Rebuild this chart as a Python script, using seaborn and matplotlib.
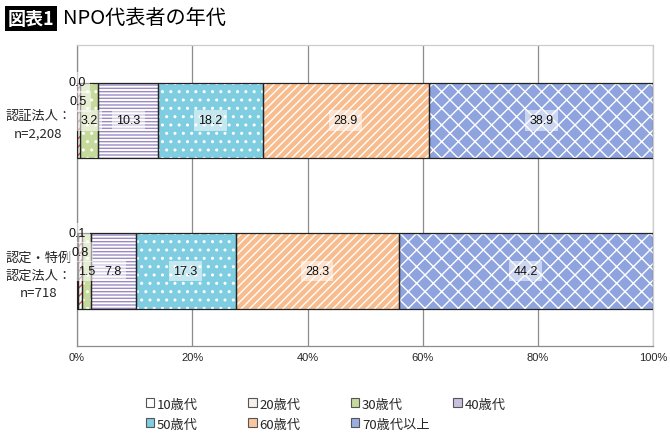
import numpy as np
import pandas as pd
import matplotlib
matplotlib.use('Agg')
import matplotlib.pyplot as plt
import matplotlib.patches as mpatches
import seaborn as sns

sns.set_style('white')
plt.rcParams['font.family'] = ['Noto Sans CJK JP', 'DejaVu Sans']
plt.rcParams['hatch.linewidth'] = 1.0

categories = ['認証法人：\nn=2,208', '認定・特例\n認定法人：\nn=718']
ages = ['10歳代', '20歳代', '30歳代', '40歳代', '50歳代', '60歳代', '70歳代以上']
ninsho = [0.0, 0.5, 3.2, 10.3, 18.2, 28.9, 38.9]
nintei = [0.1, 0.8, 1.5, 7.8, 17.3, 28.3, 44.2]
x_ticks = [0, 20, 40, 60, 80, 100]
x_tick_labels = ['0%', '20%', '40%', '60%', '80%', '100%']

# face colour, hatch colour, hatch, legend colour
styles = {'10歳代': ('white', '#c9c9c9', '', 'white'),
          '20歳代': ('white', '#d9534f', '////', '#f7eeee'),
          '30歳代': ('#c6da9c', 'white', '..', '#c6da9c'),
          '40歳代': ('white', '#9b89c4', '-----', '#c9c0de'),
          '50歳代': ('#7fcde0', 'white', '..', '#7fcde0'),
          '60歳代': ('#f8bd8e', 'white', '////', '#f8c7a0'),
          '70歳代以上': ('#8fa4de', 'white', 'xx', '#9aaee0')}

df = pd.DataFrame({'group': np.repeat(categories, len(ages)),
                   'age': ages * len(categories),
                   'value': ninsho + nintei})
df['cum'] = df.groupby('group', sort=False)['value'].cumsum()

fig = plt.figure(figsize=(6.7, 4.35), dpi=100)
ax = fig.add_axes([0.115, 0.202, 0.86, 0.692])

# stacked bars: draw cumulative totals from the outside in
for age in ages[::-1]:
    sub = df[df.age == age]
    face, hcol, hatch, _ = styles[age]
    n0 = len(ax.patches)
    sns.barplot(data=sub, x='cum', y='group', order=categories, orient='h',
                color=face, width=0.5, errorbar=None, ax=ax)
    for p in ax.patches[n0:]:
        p.set_facecolor(face)
        p.set_edgecolor(hcol)
        p.set_hatch(hatch)
        p.set_linewidth(0)

# black outlines of each segment
for age in ages:
    sub = df[df.age == age]
    ax.barh(range(len(categories)), sub['value'].values, left=(sub['cum'] - sub['value']).values,
            height=0.5, facecolor='none', edgecolor='#222222', linewidth=0.9, zorder=3)

# value labels
for gi, g in enumerate(categories):
    sub = df[df.group == g].reset_index(drop=True)
    for i, row in sub.iterrows():
        centre = row['cum'] - row['value'] / 2
        dy = 0
        if row['value'] < 1:
            dy = 38 if i == 0 else 19
        ax.annotate(f"{row['value']:.1f}", (centre, gi), xytext=(0, dy), textcoords='offset pixels',
                    ha='center', va='center', fontsize=9, family=['Liberation Sans', 'DejaVu Sans'],
                    color='#111111', zorder=5,
                    bbox=dict(boxstyle='square,pad=0.35', facecolor='white', edgecolor='none', alpha=0.55))

ax.set_xlim(0, 100)
ax.set_ylim(1.5, -0.5)
ax.set_xticks(x_ticks)
ax.set_xticklabels(x_tick_labels, fontsize=8, family=['Liberation Sans Narrow', 'Liberation Sans', 'DejaVu Sans'])
ax.set_yticks(range(len(categories)))
ax.set_yticklabels(categories, fontsize=9.5, multialignment='center', linespacing=1.5)
ax.tick_params(axis='both', length=0, pad=4)
ax.set_xlabel('')
ax.set_ylabel('')
ax.grid(axis='x', color='#8c8c8c', linewidth=0.9)
ax.set_axisbelow(True)
for side in ['top', 'right']:
    ax.spines[side].set_color('#cccccc')
    ax.spines[side].set_linewidth(0.9)
for side in ['left', 'bottom']:
    ax.spines[side].set_color('#8c8c8c')
    ax.spines[side].set_linewidth(0.9)

# legend in two rows, each its own legend so the columns line up
handles = [mpatches.Patch(facecolor=styles[a][3], edgecolor='#555555', linewidth=0.8, label=a)
           for a in ages]
for row_handles, y in [(handles[:4], 0.069), (handles[4:], 0.023)]:
    fig.legend(handles=row_handles, ncol=4, loc='center left', bbox_to_anchor=(0.2, y),
               frameon=False, fontsize=9.5, handlelength=0.65, handleheight=0.65,
               handletextpad=0.2, columnspacing=3.8)

fig.text(0.012, 0.955, '図表1', fontsize=13, fontweight='bold', color='white', va='center', ha='left',
         bbox=dict(boxstyle='square,pad=0.15', facecolor='black', edgecolor='none'))
fig.text(0.094, 0.955, 'NPO代表者の年代', fontsize=14.5, color='black', va='center', ha='left')

fig.savefig('out.png', dpi=100)
